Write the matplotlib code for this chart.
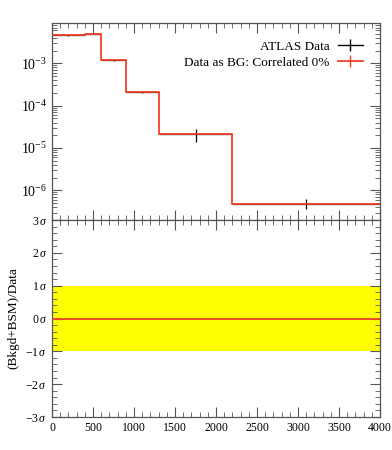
import matplotlib
matplotlib.use("Agg")
import matplotlib.pyplot as plt
import numpy as np
from matplotlib.lines import Line2D
from matplotlib.ticker import MultipleLocator, FixedLocator, LogLocator, NullFormatter

# Data
bin_edges = [0, 400, 600, 900, 1300, 2200, 4000]
data_vals = [4.6e-3, 5.0e-3, 1.2e-3, 2.1e-4, 2.1e-5, 4.9e-7]
data_errs = [1.5e-4, 2.0e-4, 4.0e-5, 8.0e-6, 7.0e-6, 1.2e-7]
bg_vals = [4.6e-3, 5.0e-3, 1.2e-3, 2.1e-4, 2.1e-5, 4.9e-7]
ratio_vals = [0, 0, 0, 0, 0, 0]
x_ticks = [0, 500, 1000, 1500, 2000, 2500, 3000, 3500, 4000]
sigma_ticks = [-3, -2, -1, 0, 1, 2, 3]

plt.rcParams['font.family'] = ['Liberation Serif', 'DejaVu Serif']
plt.rcParams['mathtext.fontset'] = 'custom'
plt.rcParams['mathtext.rm'] = 'Liberation Serif'
plt.rcParams['mathtext.it'] = 'Liberation Serif:italic'

fig = plt.figure(figsize=(3.92, 4.5), dpi=100)
W, H = 392, 450
left, right = 52 / W, 380 / W
top_main, mid, bot = 1 - 23.3 / H, 1 - 220 / H, 1 - 417 / H
ax = fig.add_axes([left, mid, right - left, top_main - mid])
axr = fig.add_axes([left, bot, right - left, mid - bot], sharex=ax)

edges = np.array(bin_edges, dtype=float)
centers = 0.5 * (edges[1:] + edges[:-1])
halfw = 0.5 * (edges[1:] - edges[:-1])
red = '#f0402a'

# Data points
ax.errorbar(centers, data_vals, yerr=data_errs, xerr=halfw, fmt='none',
            ecolor='black', elinewidth=0.9, capsize=0, zorder=2)
# BG step
stepy = np.append(bg_vals, bg_vals[-1])
ax.step(edges, stepy, where='post', color=red, lw=1.3, zorder=3)

h_data = Line2D([0], [0], color='black', lw=1.0, marker='|', markersize=9, markeredgewidth=1.0)
h_bg = Line2D([0], [0], color=red, lw=1.3, marker='|', markersize=9, markeredgewidth=1.0)

ax.set_yscale('log')
ax.set_xlim(0, 4000)
ax.set_ylim(2.0e-7, 8.8e-3)
ax.yaxis.set_major_locator(LogLocator(base=10, numticks=20))
ax.yaxis.set_minor_locator(LogLocator(base=10, subs=np.arange(2, 10), numticks=100))
ax.yaxis.set_minor_formatter(NullFormatter())
ax.xaxis.set_major_locator(FixedLocator(x_ticks))
ax.xaxis.set_minor_locator(MultipleLocator(100))
plt.setp(ax.get_xticklabels(), visible=False)

ax.legend([h_data, h_bg], ['ATLAS Data', 'Data as BG: Correlated 0%'],
          loc='upper right', frameon=False, markerfirst=False, fontsize=9.5,
          handlelength=1.9, handletextpad=0.6, borderaxespad=0.8,
          labelspacing=0.3, borderpad=0.5)

# Ratio panel
axr.axhspan(-1, 1, color='#ffff00', lw=0, zorder=1)
ratio_step = np.append(ratio_vals, ratio_vals[-1])
axr.step(edges, ratio_step, where='post', color=red, lw=1.3, zorder=3)
axr.set_ylim(-3, 3)
axr.yaxis.set_major_locator(FixedLocator(sigma_ticks))
axr.yaxis.set_minor_locator(MultipleLocator(0.2))
axr.set_yticklabels([r'$%d\,\sigma$' % s for s in sigma_ticks])
axr.set_xticklabels([str(t) for t in x_ticks])
axr.set_ylabel('(Bkgd+BSM)/Data', fontsize=9.5)

for a in (ax, axr):
    a.tick_params(which='both', direction='in', top=True, right=True, labelsize=8.5,
                  color='#555555')
    a.tick_params(which='major', length=7, width=0.8)
    a.tick_params(which='minor', length=3.5, width=0.6)
    for s in a.spines.values():
        s.set_color('#555555')
        s.set_linewidth(0.9)
ax.tick_params(axis='y', labelsize=10)

fig.savefig('out.png', dpi=100)
